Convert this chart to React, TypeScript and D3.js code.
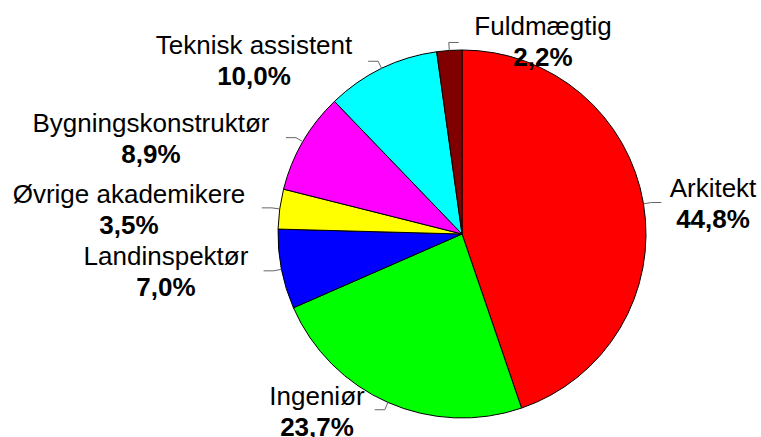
import React from "react";
import * as d3 from "d3";

const categories = [
  "Arkitekt",
  "Ingeniør",
  "Landinspektør",
  "Øvrige akademikere",
  "Bygningskonstruktør",
  "Teknisk assistent",
  "Fuldmægtig",
];
const shares = [44.8, 23.7, 7.0, 3.5, 8.9, 10.0, 2.2];
const colors = ["#ff0000", "#00ff00", "#0000ff", "#ffff00", "#ff00ff", "#00ffff", "#800000"];

// label layout: centre x, baseline of name line, which side the leader turns to
const labelX = [713, 317, 166, 129, 151, 254, 543];
const labelY = [197, 405, 265, 203, 132, 54, 35];
const leaderSide = [1, -1, -1, -1, -1, -1, 1];

const W = 761;
const H = 437;
const cx = 462;
const cy = 234;
const R = 184;

const App = () => {
  const pie = d3.pie<number>().sort(null).value((d) => d);
  const arcs = pie(shares);
  const arc = d3.arc<d3.PieArcDatum<number>>().innerRadius(0).outerRadius(R);
  const fmt = (v: number) => v.toFixed(1).replace(".", ",") + "%";
  const font = "'Liberation Sans', Arial, sans-serif";

  return (
    <svg width={W} height={H} style={{ position: "absolute", left: 0, top: 0 }}>
      <rect width={W} height={H} fill="#fff" />
      <g transform={`translate(${cx},${cy})`}>
        {arcs.map((a, i) => (
          <path key={i} d={arc(a) || ""} fill={colors[i]} stroke="#000" strokeWidth={1} />
        ))}
        {arcs.map((a, i) => {
          const mid = (a.startAngle + a.endAngle) / 2;
          const p0 = [Math.sin(mid) * R, -Math.cos(mid) * R];
          const p1 = [Math.sin(mid) * (R + 8), -Math.cos(mid) * (R + 8)];
          const p2 = [p1[0] + leaderSide[i] * 10, p1[1]];
          return (
            <polyline
              key={"l" + i}
              points={[p0, p1, p2].map((p) => p.join(",")).join(" ")}
              fill="none"
              stroke="#666"
              strokeWidth={1}
            />
          );
        })}
      </g>
      {categories.map((c, i) => (
        <g key={"t" + i} fontFamily={font} fontSize={26} textAnchor="middle" fill="#000">
          <text x={labelX[i]} y={labelY[i]}>{c}</text>
          <text x={labelX[i]} y={labelY[i] + 31} fontWeight="bold">{fmt(shares[i])}</text>
        </g>
      ))}
    </svg>
  );
};

export default App;
